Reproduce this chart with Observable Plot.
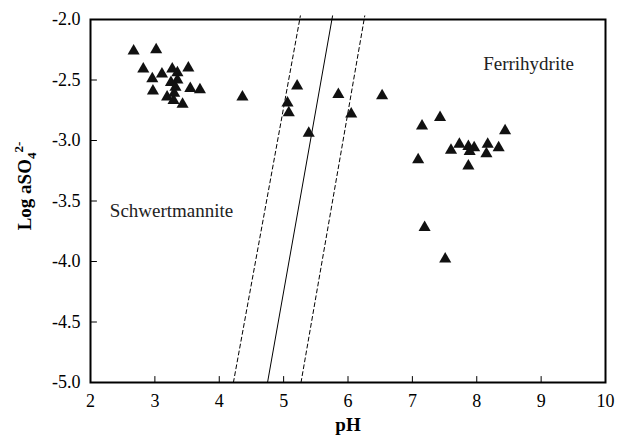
<!DOCTYPE html>
<html>
<head>
<meta charset="utf-8">
<script src="https://cdn.jsdelivr.net/npm/d3@7"></script>
<script src="https://cdn.jsdelivr.net/npm/@observablehq/plot@0.6"></script>
<style>
  html, body { margin: 0; padding: 0; background: #fff; }
</style>
</head>
<body>
<div id="chart"></div>
<script>
// Sample points
const pH = [2.67, 3.02, 2.82, 2.96, 3.11, 2.97, 3.27, 3.35, 3.52, 3.55, 3.70, 3.19, 3.29, 3.43, 3.32, 3.35, 3.25, 3.30,
            4.36, 5.06, 5.08, 5.21, 5.39, 5.85, 6.05, 6.53,
            7.15, 7.43, 7.09, 7.60, 7.73, 7.87, 7.96, 7.89, 8.17, 8.34, 8.15, 8.44, 7.87, 7.19, 7.51];
const logSO4 = [-2.26, -2.25, -2.41, -2.49, -2.45, -2.59, -2.41, -2.44, -2.40, -2.57, -2.58, -2.64, -2.67, -2.70, -2.56, -2.50, -2.52, -2.61,
                -2.64, -2.69, -2.77, -2.55, -2.94, -2.62, -2.78, -2.63,
                -2.88, -2.81, -3.16, -3.08, -3.03, -3.05, -3.06, -3.09, -3.03, -3.06, -3.11, -2.92, -3.21, -3.72, -3.98];

// Boundary lines (end points)
const lineY = [-5.0, -1.97];
const solidPH = [4.75, 5.76];
const dashLeftPH = [4.22, 5.26];
const dashRightPH = [5.27, 6.26];

// Ticks
const xTicks = [2, 3, 4, 5, 6, 7, 8, 9, 10];
const yTicks = [-5.0, -4.5, -4.0, -3.5, -3.0, -2.5, -2.0];

// Region labels
const regionNames = ["Ferrihydrite", "Schwertmannite"];
const regionPH = [8.10, 2.30];
const regionY = [-2.37, -3.58];

const points = pH.map((v, i) => ({pH: v, y: logSO4[i]}));
const mkLine = (xs) => xs.map((v, i) => ({pH: v, y: lineY[i]}));
const regions = regionNames.map((n, i) => ({name: n, pH: regionPH[i], y: regionY[i]}));

const tickShape = {draw(ctx, l) { ctx.moveTo(0, 0); ctx.lineTo(0, -l); }};

const svg = Plot.plot({
  width: 619,
  height: 440,
  marginLeft: 90,
  marginRight: 14,
  marginTop: 19,
  marginBottom: 58,
  style: {fontFamily: "'Liberation Serif', 'Times New Roman', serif", fontSize: "18px", color: "black", background: "white"},
  x: {domain: [2, 10]},
  y: {domain: [-5, -2]},
  marks: [
    Plot.axisX(xTicks, {tickSize: 0, tickPadding: 12, label: null, fontSize: 18}),
    Plot.axisY(yTicks, {tickSize: 0, tickPadding: 10, label: null, fontSize: 18, tickFormat: d => d.toFixed(1)}),
    Plot.vector(xTicks, {x: d => d, frameAnchor: "bottom", length: 6, rotate: 0, anchor: "start", shape: tickShape, stroke: "black", strokeWidth: 1}),
    Plot.vector(yTicks, {y: d => d, frameAnchor: "left", length: 6, rotate: 90, anchor: "start", shape: tickShape, stroke: "black", strokeWidth: 1}),
    Plot.line(mkLine(dashLeftPH), {x: "pH", y: "y", stroke: "black", strokeWidth: 1, strokeDasharray: "4,3"}),
    Plot.line(mkLine(solidPH), {x: "pH", y: "y", stroke: "black", strokeWidth: 1}),
    Plot.line(mkLine(dashRightPH), {x: "pH", y: "y", stroke: "black", strokeWidth: 1, strokeDasharray: "4,3"}),
    Plot.dot(points, {x: "pH", y: "y", symbol: "triangle", r: 4.5, fill: "#111", stroke: "none"}),
    Plot.text(regions, {x: "pH", y: "y", text: "name", textAnchor: "start", fontSize: 19, fill: "#222"}),
    Plot.text(["pH"], {frameAnchor: "bottom", dy: 48, text: d => d, fontWeight: "bold", fontSize: 19, lineAnchor: "bottom"}),
    Plot.frame({stroke: "black", strokeWidth: 2})
  ]
});

const lab = d3.select(svg).append("text")
  .attr("transform", "translate(31,186) rotate(-90)")
  .attr("text-anchor", "middle")
  .attr("font-weight", "bold")
  .attr("font-size", 19)
  .attr("fill", "black");
lab.append("tspan").text("Log aSO");
lab.append("tspan").attr("font-size", 13).attr("dy", 5).text("4");
lab.append("tspan").attr("font-size", 13).attr("dy", -13).text("2-");

document.getElementById("chart").appendChild(svg);
</script>
</body>
</html>
